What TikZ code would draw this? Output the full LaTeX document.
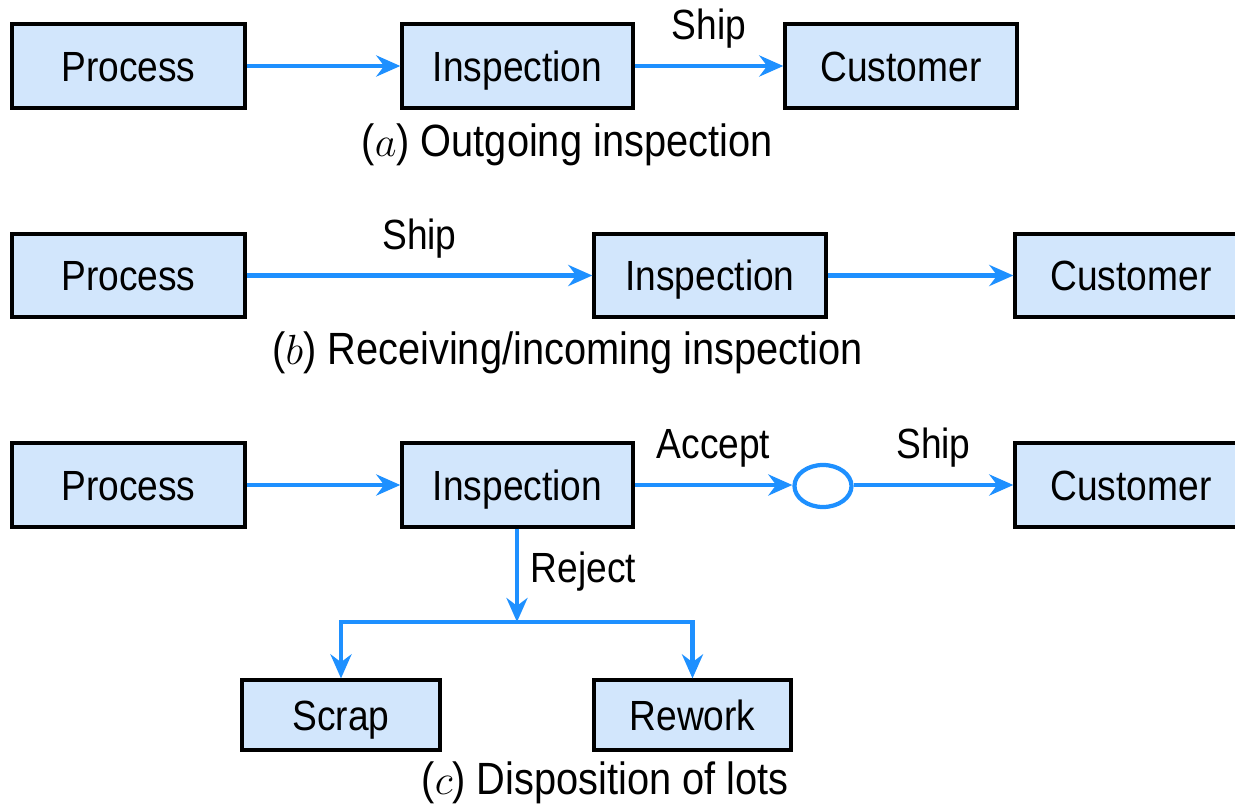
\documentclass[tikz,border=0pt]{standalone}
\usepackage{fontspec}
\setmainfont{Liberation Sans}[FakeStretch=0.88]
\usetikzlibrary{shapes.geometric}
\usetikzlibrary{arrows.meta}
\definecolor{boxblue}{RGB}{210,230,252}
\definecolor{lineblue}{RGB}{30,144,255}
\tikzset{
  box/.style={draw=black, line width=0.9pt, fill=boxblue, minimum height=0.84cm, inner sep=0pt, text height=8.6pt, text depth=0pt, font=\fontsize{12}{14}\selectfont},
  flow/.style={draw=lineblue, line width=1.2pt, -{Stealth[length=2.4mm,width=2.1mm]}},
  lbl/.style={font=\fontsize{12}{14}\selectfont, above=1pt},
  captxt/.style={font=\fontsize{12.85}{15}\selectfont},
}
\begin{document}
\begin{tikzpicture}[x=0.01cm,y=-0.01cm]
        \clip (0,0) rectangle (1235,806);
        % (a) outgoing
        \node[box, minimum width=2.33cm] (pa) at (128.5,66) {Process};
        \node[box, minimum width=2.31cm] (ia) at (517.5,66) {Inspection};
        \node[box, minimum width=2.32cm] (ca) at (901,66) {Customer};
        \node[captxt] (capa) at (567,145) {($a$) Outgoing inspection};
        \draw[flow] (pa) -- (ia);
        \draw[flow] (ia) -- node[lbl] (shipa) {Ship} (ca);
        % (b) receiving
        \node[box, minimum width=2.33cm, minimum height=0.83cm] (pb) at (128.5,275.5) {Process};
        \node[box, minimum width=2.32cm, minimum height=0.83cm] (ib) at (710,275.5) {Inspection};
        \node[box, minimum width=2.32cm, minimum height=0.83cm] (cb) at (1131,275.5) {Customer};
        \node[captxt] (capb) at (567.5,353) {($b$) Receiving/incoming inspection};
        \draw[flow] (pb) -- node[lbl] (shipb) {Ship} (ib);
        \draw[flow] (ib) -- (cb);
        % (c) disposition
        \node[box, minimum width=2.33cm] (pc) at (128.5,485) {Process};
        \node[box, minimum width=2.31cm] (ic) at (517.5,485) {Inspection};
        \node[ellipse, draw=lineblue, line width=1.2pt, minimum width=0.57cm, minimum height=0.42cm, inner sep=0pt] (lot) at (823,486) {};
        \node[box, minimum width=2.32cm] (cc) at (1131,485) {Customer};
        \node[box, minimum width=1.98cm, minimum height=0.70cm] (scrap) at (341,715) {Scrap};
        \node[box, minimum width=1.97cm, minimum height=0.70cm] (rework) at (692.5,715) {Rework};
        \coordinate (split) at (517,622);
        \node[captxt] (capc) at (605,783) {($c$) Disposition of lots};
        \draw[flow] (pc) -- (ic);
        \draw[flow] (ic.east) -- node[lbl] (accept) {Accept} (lot.west |- ic.east);
        \draw[flow] (lot.east |- cc.west) -- node[lbl] (shipc) {Ship} (cc.west);
        \draw[flow] (ic.south -| split) -- node[lbl, above=0pt, right] (reject) {Reject} (split);
        \draw[flow] (split) -| (scrap.north);
        \draw[flow] (split) -| (rework.north);
    \end{tikzpicture}
\end{document}
